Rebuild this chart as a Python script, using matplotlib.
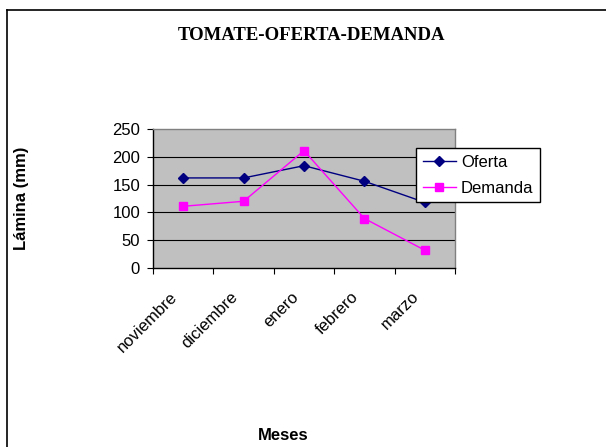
import matplotlib
matplotlib.use("Agg")
import matplotlib.pyplot as plt
from matplotlib.lines import Line2D
from matplotlib.transforms import ScaledTranslation

meses = ["noviembre", "diciembre", "enero", "febrero", "marzo"]
oferta = [162, 162, 184, 156, 118]
demanda = [111, 120, 211, 89, 32]
yticks = [0, 50, 100, 150, 200, 250]

plt.rcParams['font.family'] = ['Liberation Sans', 'DejaVu Sans']

fig = plt.figure(figsize=(6.06, 4.47), dpi=100)
fig.patch.set_facecolor("white")

# outer chart border (left and top visible)
fig.add_artist(Line2D([7/606, 7/606], [0, 1 - 10/447], transform=fig.transFigure,
                      color="black", lw=1.2))
fig.add_artist(Line2D([7/606, 1], [1 - 10/447, 1 - 10/447], transform=fig.transFigure,
                      color="black", lw=1.2))

ax = fig.add_axes([153/606, 1 - 268/447, 302/606, 139/447])
ax.set_facecolor("#C0C0C0")

x = list(range(len(meses)))
ax.plot(x, oferta, color="#000080", marker="D", markersize=5.5, lw=1,
        label="Oferta", zorder=3)
ax.plot(x, demanda, color="#FF00FF", marker="s", markersize=6, lw=1,
        label="Demanda", zorder=3)

ax.set_xlim(-0.5, len(meses) - 0.5)
ax.set_ylim(0, 250)
ax.set_yticks(yticks)
ax.set_yticklabels([str(v) for v in yticks], fontsize=12)
for v in yticks[1:-1]:
    ax.axhline(v, color="black", lw=0.8, zorder=1)

# category ticks at boundaries, labels at centres
ax.set_xticks([i - 0.5 for i in range(len(meses) + 1)])
ax.set_xticklabels([""] * (len(meses) + 1))
ax.set_xticks(x, minor=True)
ax.set_xticklabels(meses, minor=True, rotation=45, ha="right", va="center",
                   rotation_mode="anchor", fontsize=12)
ax.tick_params(axis="x", which="minor", length=0, pad=19)
ax.tick_params(axis="x", which="major", length=4.3, direction="out", color="black")
ax.tick_params(axis="y", length=4.3, direction="out", color="black", pad=5)

offset = ScaledTranslation(-8/100, 0, fig.dpi_scale_trans)
for lab in ax.get_xticklabels(minor=True):
    lab.set_transform(lab.get_transform() + offset)

for s in ["left", "bottom"]:
    ax.spines[s].set_color("black")
    ax.spines[s].set_linewidth(1)
for s in ["top", "right"]:
    ax.spines[s].set_color("#808080")
    ax.spines[s].set_linewidth(1)

leg = ax.legend(loc="upper left", bbox_to_anchor=(416/606, 1 - 148/447),
                bbox_transform=fig.transFigure, frameon=True, fancybox=False,
                edgecolor="black", fontsize=12, borderpad=0.4, labelspacing=0.65,
                handlelength=2.0, handletextpad=0.3, borderaxespad=0)
leg.get_frame().set_linewidth(1)
leg.get_frame().set_facecolor("white")
leg.get_frame().set_alpha(1)

fig.text(311/606, 1 - 36/447, "TOMATE-OFERTA-DEMANDA", ha="center", va="center",
         fontsize=13.5, fontweight="bold", family=["Liberation Serif", "DejaVu Serif"])
fig.text(22/606, 1 - 198/447, "Lámina (mm)", ha="center", va="center",
         rotation=90, fontsize=12, fontweight="bold")
fig.text(283/606, 1 - 435/447, "Meses", ha="center", va="center",
         fontsize=12, fontweight="bold")

fig.savefig("out.png", dpi=100)
